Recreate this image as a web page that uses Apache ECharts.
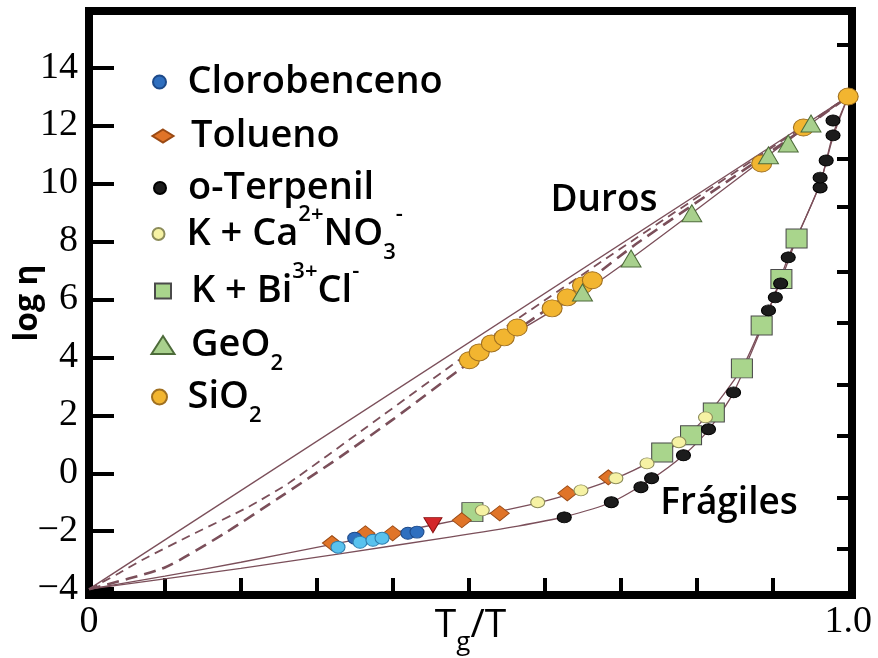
<!DOCTYPE html>
<html><head><meta charset="utf-8">
<script src="https://cdn.jsdelivr.net/npm/echarts@6/dist/echarts.min.js"></script>
<style>html,body{margin:0;padding:0;background:#fff}#c{width:878px;height:658px}</style>
</head><body><div id="c"></div>
<script>
// ---- ticks ----
const xTickValues = [0.1,0.2,0.3,0.4,0.5,0.6,0.7,0.8,0.9];
const xLabelValues = [0,1];
const yTickValues = [-4,-2,0,2,4,6,8,10,12,14];
const rightTickValues = [-2.6,-0.85,1.3,3.05,5.2,6.95,9.2,10.85,14.8];

// ---- curves ----
const lineStrong = [[0,-4],[1,13]];
const lineDash1 = [[0,-4],[0.036,-3.5],[0.07,-2.99],[0.14,-2.06],[0.21,-1.16],[0.263,-0.34],[0.366,1.6],[0.45,3.2],[0.524,4.6],[0.72,8.1],[0.9,11.25],[1,13]];
const lineDash2 = [[0,-4],[0.1,-3.25],[0.18,-2.05],[0.25,-0.85],[0.33,0.55],[0.4,1.85],[0.5,3.8],[0.6,5.6],[0.66,6.7],[0.72,7.9],[0.82,9.7],[0.92,11.5],[1,13]];
const lineGeO2 = [[0.53,4.35],[0.65,6.24],[0.714,7.41],[0.794,8.97],[0.895,10.97],[0.951,12.07],[1,13]];
const lineFragil1 = [[0,-4],[0.1,-3.55],[0.2,-3.07],[0.32,-2.45],[0.46,-1.75],[0.59,-1.03],[0.648,-0.6],[0.694,-0.17],[0.735,0.34],[0.777,1.07],[0.812,1.93],[0.86,3.62],[0.886,5.1],[0.912,6.7],[0.932,8.1],[0.963,10.0],[0.98,11.6],[1,13]];
const lineFragil2 = [[0,-4],[0.09,-3.68],[0.2,-3.28],[0.33,-2.78],[0.475,-2.2],[0.565,-1.82],[0.626,-1.5],[0.688,-1.0],[0.741,-0.2],[0.783,0.62],[0.816,1.5],[0.849,2.79],[0.895,5.6],[0.921,7.45],[0.963,10.0],[0.98,11.7],[1,13]];

// ---- data points ----
const clorobencenoA = [[0.350,-2.24],[0.420,-2.07],[0.432,-2.03]];
const clorobencenoB = [[0.328,-2.55],[0.357,-2.38],[0.374,-2.31],[0.386,-2.24]];
const tolueno = [[0.320,-2.41],[0.364,-2.07],[0.400,-2.07],[0.491,-1.62],[0.541,-1.38],[0.630,-0.69],[0.684,-0.14]];
const oTerpenil = [[0.626,-1.52],[0.688,-1.0],[0.727,-0.48],[0.741,-0.17],[0.783,0.62],[0.816,1.52],[0.849,2.79],[0.895,5.62],[0.904,6.07],[0.911,6.55],[0.921,7.45],[0.963,9.86],[0.963,10.2],[0.971,10.79],[0.980,11.66],[0.980,12.17]];
const kCaNO3 = [[0.518,-1.28],[0.591,-1.0],[0.648,-0.59],[0.694,-0.17],[0.735,0.34],[0.777,1.07],[0.812,1.93]];
const kBiCl = [[0.505,-1.34],[0.755,0.72],[0.793,1.31],[0.823,2.10],[0.860,3.62],[0.886,5.10],[0.912,6.7],[0.932,8.1]];
const geO2 = [[0.650,6.24],[0.714,7.41],[0.794,8.97],[0.895,10.97],[0.921,11.38],[0.951,12.07]];
const siO2 = [[0.501,3.90],[0.514,4.17],[0.530,4.48],[0.547,4.69],[0.564,5.03],[0.610,5.69],[0.630,6.07],[0.650,6.48],[0.663,6.66],[0.886,10.69],[0.941,11.93],[1.0,13.0]];
const otro = [[0.453,-1.79]];

const richNames = {
  'Clorobenceno':'{m|Clorobenceno}',
  'Tolueno':'{m|Tolueno}',
  'o-Terpenil':'{m|o-Terpenil}',
  'K + Ca2+NO3-':'{m|K + Ca}{sup|2+}{m|NO}{sub|3}{sup|-}',
  'K + Bi3+Cl-':'{m|K + Bi}{sup|3+}{m|Cl}{sup|-}',
  'GeO2':'{m|GeO}{sub|2}',
  'SiO2':'{m|SiO}{sub|2}'
};

const ELL = 'path://M0,5A5,5 0 1,1 10,5A5,5 0 1,1 0,5Z';
const LC = '#7b4f5a';
const SANS = 'Open Sans';

const rich = {
  m:{fontFamily:SANS,fontSize:38,fontWeight:600,color:'#000',lineHeight:60,verticalAlign:'middle'},
  sub:{fontFamily:SANS,fontSize:22,fontWeight:600,color:'#000',lineHeight:22,verticalAlign:'bottom'},
  sup:{fontFamily:SANS,fontSize:22,fontWeight:600,color:'#000',lineHeight:59,verticalAlign:'top'}
};

const legendLayout = [
  {name:'Clorobenceno', icon:ELL, top:63, w:20, h:13},
  {name:'Tolueno', icon:'diamond', top:117, w:21, h:13},
  {name:'o-Terpenil', icon:ELL, top:169, w:18, h:12},
  {name:'K + Ca2+NO3-', icon:ELL, top:204, w:21, h:12},
  {name:'K + Bi3+Cl-', icon:'rect', top:261, w:16, h:15},
  {name:'GeO2', icon:'triangle', top:326, w:23, h:18},
  {name:'SiO2', icon:ELL, top:378, w:22, h:15}
];
const legends = legendLayout.map(l => ({
  left: 162 - l.w/2, top: l.top, padding:0, orient:'vertical',
  itemWidth:l.w, itemHeight:l.h, selectedMode:false,
  data:[{name:l.name, icon:l.icon}],
  formatter: n => richNames[n],
  textStyle:{rich:rich, padding:[0,0,0, 190 - (162 + l.w/2 + 5)]}
}));

function lineSeries(data, style, smooth){
  return {type:'line', data:data, showSymbol:false, smooth:smooth,
    lineStyle:Object.assign({color:LC,width:1.3},style), z:1, silent:true};
}
function scat(name, data, symbol, size, fill, border, extra){
  return Object.assign({type:'scatter', name:name, data:data, symbol:symbol, symbolSize:size,
    itemStyle:{color:fill, borderColor:border, borderWidth:1, opacity:1}, z:3}, extra||{});
}

const option = {
  animation:false,
  textStyle:{fontFamily:SANS},
  grid:{left:89, right:26, top:11, bottom:63, outerBoundsMode:'none', containLabel:false,
    show:true, borderWidth:8, borderColor:'#000', backgroundColor:'transparent'},
  legend: legends,
  xAxis:{type:'value', min:0, max:1.005,
    axisLine:{show:false, onZero:false},
    axisTick:{show:true, inside:true, length:17, customValues:xTickValues, lineStyle:{width:4,color:'#000'}},
    axisLabel:{customValues:xLabelValues, formatter:v => v===0?'0':'1.0', fontFamily:'Liberation Serif', fontSize:38, color:'#000', margin:8},
    splitLine:{show:false},
    name:'{a|T}{b|g}{a|/T}', nameLocation:'middle', nameGap:11, nameMoveOverlap:false,
    nameTextStyle:{rich:{a:{fontFamily:SANS,fontSize:39,color:'#000',lineHeight:50,verticalAlign:'top'},b:{fontFamily:SANS,fontSize:26,color:'#000',lineHeight:18,verticalAlign:'bottom'}}}
  },
  yAxis:[{type:'value', min:-4.2, max:15.95,
    axisLine:{show:false, onZero:false},
    axisTick:{show:true, inside:true, length:25, customValues:yTickValues, lineStyle:{width:4,color:'#000'}},
    axisLabel:{customValues:yTickValues, formatter:v => String(v).replace('-','\u2212'), fontFamily:'Liberation Serif', fontSize:38, color:'#000', margin:11},
    splitLine:{show:false},
    name:'log η', nameLocation:'middle', nameGap:45, nameMoveOverlap:false,
    nameTextStyle:{fontFamily:SANS,fontSize:32,fontWeight:'bold',color:'#000'}
  },{type:'value', position:'right', min:-4.2, max:15.95,
    axisLine:{show:false, onZero:false},
    axisTick:{show:true, inside:true, length:15, customValues:rightTickValues, lineStyle:{width:4,color:'#000'}},
    axisLabel:{show:false}, splitLine:{show:false}
  }],
  graphic:[
    {type:'text', x:604, y:200, style:{text:'Duros', fontFamily:SANS, fontSize:37, fontWeight:600, fill:'#000', textAlign:'center', textVerticalAlign:'middle'}},
    {type:'text', x:729, y:503, style:{text:'Frágiles', fontFamily:SANS, fontSize:37, fontWeight:600, fill:'#000', textAlign:'center', textVerticalAlign:'middle'}}
  ],
  series:[
    lineSeries(lineStrong, {width:1.4}, false),
    lineSeries(lineDash1, {type:[9,6], width:1.8}, 0.2),
    lineSeries(lineDash2, {type:[12,7], width:2.6}, 0.2),
    lineSeries(lineGeO2, {width:1.3}, 0.2),
    lineSeries(lineFragil1, {width:1.3}, 0.25),
    lineSeries(lineFragil2, {width:1.3}, 0.25),
    scat('K + Bi3+Cl-', kBiCl, 'rect', [21,19], '#a9d58c', '#4a4a4a'),
    scat('Tolueno', tolueno, 'diamond', [19,15], '#e07428', '#9a4a14'),
    scat('K + Ca2+NO3-', kCaNO3, ELL, [14,11], '#f6f2a4', '#8c8c5a'),
    scat('o-Terpenil', oTerpenil, ELL, [14,11], '#1c1c1c', '#000'),
    scat('Clorobenceno', clorobencenoA, ELL, [14,12], '#2f6fbf', '#1d4a8a'),
    scat('Clorobenceno', clorobencenoB, ELL, [14,12], '#59c2ee', '#2f7fb0'),
    scat('otro', otro, 'triangle', [18,15], '#d3262a', '#8a1010', {symbolRotate:180}),
    scat('SiO2', siO2, ELL, [20,17], '#f2b530', '#a07020'),
    scat('GeO2', geO2, 'triangle', [20,17], '#a8d08d', '#4d6b3a')
  ]
};
const chart = echarts.init(document.getElementById('c'));
chart.setOption(option);
</script></body></html>
